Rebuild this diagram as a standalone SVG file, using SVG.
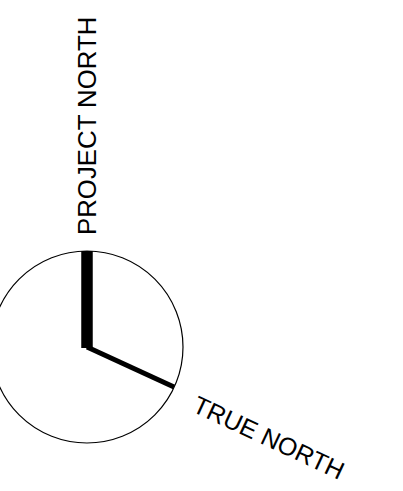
<svg xmlns="http://www.w3.org/2000/svg" width="403" height="491" viewBox="0 0 403 491">
<style>
.lbl{font-family:"Liberation Sans",Arial,sans-serif;font-size:25px;fill:#000}
</style>
<rect width="403" height="491" fill="#fff"/>
<g id="circle">
<circle cx="87" cy="347" r="96" fill="none" stroke="#000" stroke-width="1.2"/>
</g>
<g id="connectors">
<line x1="87" y1="251" x2="87" y2="348" stroke="#000" stroke-width="11.5"/>
<polyline points="87,347 174,387" fill="none" stroke="#000" stroke-width="5" stroke-linejoin="miter"/>
</g>
<g id="project-north">
<text class="lbl" style="font-size:25.8px" transform="translate(96,235) rotate(-90)">PROJECT NORTH</text>
</g>
<g id="true-north">
<text class="lbl" transform="translate(191,411) rotate(25)">TRUE NORTH</text>
</g>
</svg>
